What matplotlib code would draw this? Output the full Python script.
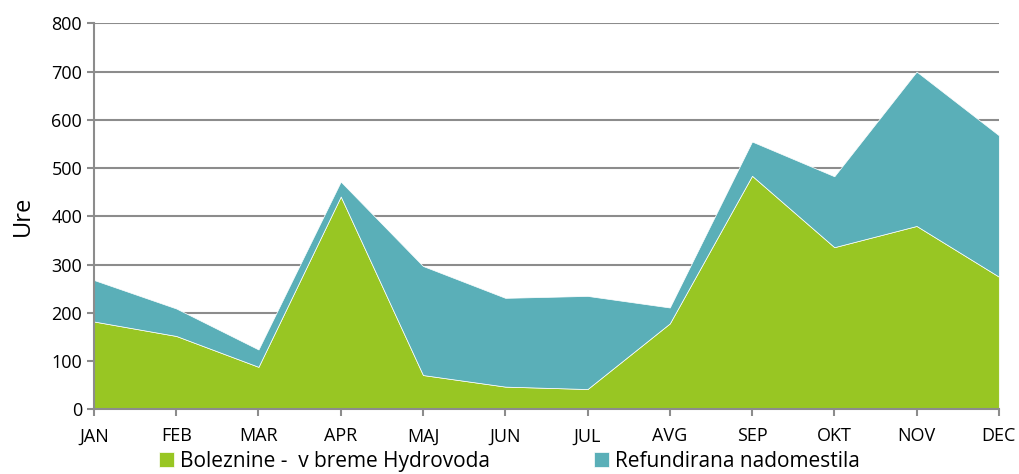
import matplotlib
matplotlib.use("Agg")
import matplotlib.pyplot as plt

meseci = ['JAN', 'FEB', 'MAR', 'APR', 'MAJ', 'JUN', 'JUL', 'AVG', 'SEP', 'OKT', 'NOV', 'DEC']
boleznine = [182, 152, 88, 441, 71, 47, 42, 178, 484, 336, 380, 275]
refundirana = [86, 57, 36, 31, 226, 184, 193, 33, 71, 147, 320, 293]

plt.rcParams['font.family'] = ['Open Sans', 'DejaVu Sans']

fig = plt.figure(figsize=(10.19, 4.74), dpi=100)
ax = fig.add_axes([0.0922, 0.1365, 0.888, 0.8143])

x = list(range(len(meseci)))
ax.stackplot(x, boleznine, refundirana, colors=['#98C623', '#5AAFB8'],
             labels=['Boleznine -  v breme Hydrovoda', 'Refundirana nadomestila'],
             edgecolor='white', linewidth=0.5, zorder=3)

ax.set_xlim(0, len(meseci) - 1)
ax.set_ylim(0, 800)
ax.set_yticks(range(0, 801, 100))
ax.set_xticks(x)
ax.set_xticklabels(meseci)
ax.yaxis.grid(True, color='#8c8c8c', linewidth=1.5, zorder=0)
ax.set_axisbelow(True)

for s in ['top', 'right']:
    ax.spines[s].set_visible(False)
for s in ['left', 'bottom']:
    ax.spines[s].set_color('#8c8c8c')
    ax.spines[s].set_linewidth(1.5)
    ax.spines[s].set_zorder(4)
ax.tick_params(axis='both', colors='#8c8c8c', width=1.5, length=5, labelsize=13, labelcolor='black')
ax.tick_params(axis='x', pad=8)
ax.set_ylabel('Ure', fontsize=17, labelpad=12)

fig.legend(loc='lower center', bbox_to_anchor=(0.5, -0.035), ncol=2, frameon=False,
           fontsize=15, handlelength=0.7, handleheight=0.7, columnspacing=5, handletextpad=0.3)

plt.savefig('out.png', dpi=100)
